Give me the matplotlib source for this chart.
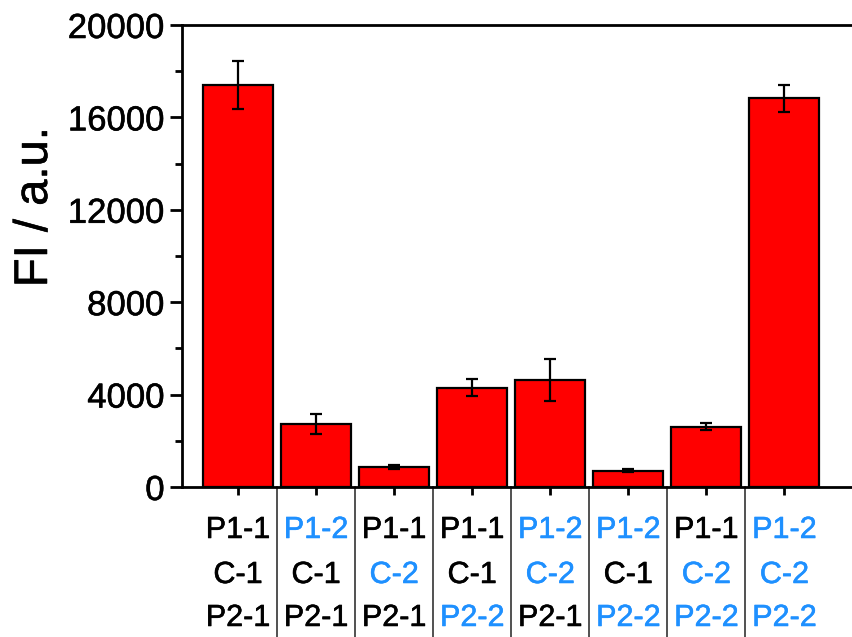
import numpy as np
import matplotlib
matplotlib.use("Agg")
import matplotlib.pyplot as plt
from matplotlib.ticker import MultipleLocator
import matplotlib.transforms as mtransforms
import matplotlib.patheffects as pe

plt.rcParams['font.family'] = ['Liberation Sans', 'DejaVu Sans']

# values
fi_mean = [17400, 2730, 870, 4300, 4620, 700, 2600, 16830]
fi_err = [1020, 450, 70, 370, 900, 60, 150, 580]
row_p1 = ['P1-1', 'P1-2', 'P1-1', 'P1-1', 'P1-2', 'P1-2', 'P1-1', 'P1-2']
row_c = ['C-1', 'C-1', 'C-2', 'C-1', 'C-2', 'C-1', 'C-2', 'C-2']
row_p2 = ['P2-1', 'P2-1', 'P2-1', 'P2-2', 'P2-1', 'P2-2', 'P2-2', 'P2-2']

BLUE = '#1E90FF'
W, H = 853, 637


def heavy(color):
    # the reference text is a bit heavier than plain regular weight
    return [pe.withStroke(linewidth=0.4, foreground=color)]


fig = plt.figure(figsize=(W / 100, H / 100), dpi=100)
ax = fig.add_axes([182 / W, 1 - 487 / H, 1 - 182 / W, (487 - 25) / H])

x = np.arange(len(fi_mean))
ax.bar(x, fi_mean, width=0.9, color='#FF0000', edgecolor='black', linewidth=1.6,
       yerr=fi_err, capsize=4.5, error_kw=dict(elinewidth=1.6, capthick=1.6, ecolor='black'))

ax.set_xlim(-0.717, 7.88)
ax.set_ylim(0, 20000)
ax.yaxis.set_major_locator(MultipleLocator(4000))
ax.yaxis.set_minor_locator(MultipleLocator(2000))
ax.set_xticks(x)
ax.set_xticklabels([])
ax.tick_params(axis='y', which='major', direction='out', length=8.5, width=2,
               labelsize=25, pad=4)
ax.tick_params(axis='y', which='minor', direction='out', length=5, width=2)
ax.tick_params(axis='x', which='major', direction='out', length=6, width=2)
ax.spines['right'].set_visible(False)
for s in ['left', 'top', 'bottom']:
    ax.spines[s].set_linewidth(2)
for t in ax.get_yticklabels():
    t.set_path_effects(heavy('black'))

fig.text(35 / W, 1 - 207 / H, 'FI / a.u.', rotation=90, ha='center', va='center',
         fontsize=34, path_effects=heavy('black'))

# label table under the axis
trans = mtransforms.blended_transform_factory(ax.transData, fig.transFigure)
row_y = [1 - 530 / H, 1 - 575 / H, 1 - 618 / H]
for rows, yy in zip([row_p1, row_c, row_p2], row_y):
    for i, lab in enumerate(rows):
        col = BLUE if lab.endswith('-2') else 'black'
        ax.text(i, yy, lab, transform=trans, ha='center', va='center',
                fontsize=22, color=col, clip_on=False, path_effects=heavy(col))

for i in range(len(fi_mean) - 1):
    ax.plot([i + 0.5, i + 0.5], [1 - 487 / H, 0], transform=trans,
            color='#333333', linewidth=1.2, clip_on=False)

fig.savefig('out.png', dpi=100)
